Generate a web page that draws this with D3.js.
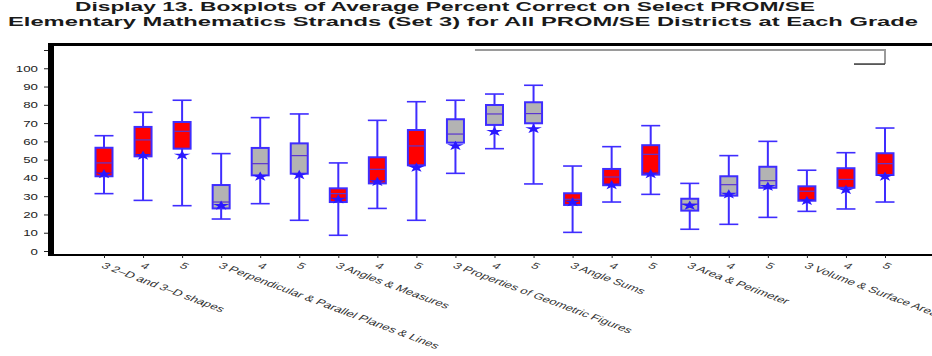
<!DOCTYPE html>
<html>
<head>
<meta charset="utf-8">
<script src="https://cdn.jsdelivr.net/npm/d3@7"></script>
<style>
  body { margin: 0; background: #fff; }
  svg { display: block; font-family: "Liberation Sans", Arial, sans-serif; }
</style>
</head>
<body>
<div id="chart"></div>
<script>
// strands and grades
var strands = ["2–D and 3–D shapes", "Perpendicular & Parallel Planes & Lines", "Angles & Measures",
    "Properties of Geometric Figures", "Angle Sums", "Area & Perimeter", "Volume & Surface Area"];
var grades = ["3", "4", "5"];

// box statistics, one per strand x grade
var whiskerLow  = [31.4, 27.7, 24.8, 17.5, 25.9, 16.8, 8.6, 23.3, 16.8, 42.5, 56.0, 36.7, 10.2, 26.8, 31.0, 11.9, 14.6, 18.4, 21.7, 23.0, 26.8];
var q1          = [40.9, 51.8, 56.0, 23.3, 41.4, 42.3, 26.8, 37.0, 46.9, 59.3, 69.0, 69.9, 25.2, 36.0, 41.8, 22.1, 30.3, 34.6, 27.5, 34.6, 41.6];
var median      = [48.2, 60.8, 65.5, 26.8, 47.8, 52.2, 31.4, 44.7, 57.5, 64.0, 75.0, 75.2, 28.3, 40.5, 52.9, 25.7, 36.3, 38.5, 32.7, 39.2, 47.8];
var q3          = [56.5, 67.9, 70.6, 36.1, 56.4, 58.9, 34.3, 51.3, 66.2, 72.1, 79.9, 81.4, 31.6, 44.9, 57.9, 28.6, 40.9, 46.1, 35.4, 45.3, 53.5];
var whiskerHigh = [63.1, 75.9, 82.5, 53.3, 73.0, 75.0, 48.2, 71.5, 81.7, 82.5, 85.9, 90.7, 46.5, 57.1, 68.6, 37.0, 52.2, 60.0, 44.2, 53.8, 67.3];
var mean        = [42.1, 52.2, 52.4, 24.8, 40.7, 41.6, 28.3, 37.9, 45.6, 57.5, 65.3, 66.8, 26.7, 36.1, 42.1, 24.8, 31.0, 35.2, 27.5, 33.4, 40.7];

var yTicks = d3.range(0, 111, 10);

var width = 932, height = 356;
var sx = 1.6; // horizontal text stretch of the scan

var data = [];
strands.forEach(function (s, si) {
    grades.forEach(function (g, gi) {
        var i = si * 3 + gi;
        data.push({
            i: i, strand: si,
            label: gi === 0 ? g + " " + s : g,
            lo: whiskerLow[i], q1: q1[i], med: median[i], q3: q3[i], hi: whiskerHigh[i], mean: mean[i]
        });
    });
});

var svg = d3.select("#chart").append("svg")
    .attr("width", width)
    .attr("height", height);

var x = d3.scalePoint().domain(d3.range(data.length)).range([104, 885]);
var y = d3.scaleLinear().domain([0, 110]).range([251, 50]);
var fill = function (d) { return d.strand % 2 === 0 ? "#ff0000" : "#b3b3b3"; };
var blue = "#3f2dff";
var boxW = 19;

// title
svg.append("text")
    .attr("x", 75).attr("y", 11)
    .attr("textLength", 740).attr("lengthAdjust", "spacingAndGlyphs")
    .attr("font-size", 12.5).attr("font-weight", "bold").attr("fill", "#1a1a1a")
    .text("Display 13. Boxplots of Average Percent Correct on Select PROM/SE");
svg.append("text")
    .attr("x", 8).attr("y", 26)
    .attr("textLength", 910).attr("lengthAdjust", "spacingAndGlyphs")
    .attr("font-size", 12.5).attr("font-weight", "bold").attr("fill", "#1a1a1a")
    .text("Elementary Mathematics Strands (Set 3) for All PROM/SE Districts at Each Grade");

// frame
svg.append("rect").attr("x", 48).attr("y", 43).attr("width", width - 48).attr("height", 3).attr("fill", "#000");
svg.append("rect").attr("x", 48).attr("y", 43).attr("width", 6).attr("height", 213).attr("fill", "#000");
svg.append("rect").attr("x", 48).attr("y", 254).attr("width", width - 48).attr("height", 2).attr("fill", "#000");

// leftover legend outline
var lx0 = (x(9) + x(10)) / 2, lx1 = x(20);
svg.append("path")
    .attr("d", "M" + lx0 + "," + y(110) + "H" + lx1 + "V" + y(102.3))
    .attr("fill", "none").attr("stroke", "#9a9a9a").attr("stroke-width", 2);
svg.append("path")
    .attr("d", "M" + (lx1 - 31) + "," + y(102.3) + "H" + lx1)
    .attr("fill", "none").attr("stroke", "#333").attr("stroke-width", 1.5);

// y axis
var yAxis = svg.append("g")
    .attr("transform", "translate(48,0)")
    .call(d3.axisLeft(y).tickValues(yTicks).tickSize(4).tickFormat(function (d) { return d > 100 ? "" : d; }));
yAxis.select(".domain").remove();
yAxis.selectAll("line").attr("stroke", "#222");
yAxis.selectAll("text")
    .attr("x", null).attr("dy", null)
    .attr("font-size", 8.3).attr("fill", "#222")
    .attr("font-family", "Liberation Sans, Arial, sans-serif")
    .attr("transform", "translate(-10,3) scale(" + sx + ",1)");

// x axis
var xAxis = svg.append("g")
    .attr("transform", "translate(0,255)")
    .call(d3.axisBottom(x).tickSize(3).tickFormat(function (i) { return data[i].label; }));
xAxis.select(".domain").remove();
xAxis.selectAll("line").attr("stroke", "#222");
xAxis.selectAll("text")
    .attr("y", null).attr("dy", "0.7em")
    .attr("text-anchor", "start")
    .attr("font-size", 8.6).attr("fill", "#333")
    .attr("font-family", "Liberation Sans, Arial, sans-serif")
    .attr("transform", "translate(1,7) scale(" + sx + ",1) rotate(31)");

// boxes
var box = svg.append("g").selectAll("g")
    .data(data).enter().append("g")
    .attr("transform", function (d) { return "translate(" + x(d.i) + ",0)"; });

box.append("line")
    .attr("y1", function (d) { return y(d.lo); })
    .attr("y2", function (d) { return y(d.hi); })
    .attr("stroke", blue).attr("stroke-width", 2);

box.selectAll(".cap")
    .data(function (d) { return [d.lo, d.hi]; })
    .enter().append("line")
    .attr("class", "cap")
    .attr("x1", -boxW / 2).attr("x2", boxW / 2)
    .attr("y1", function (v) { return y(v); })
    .attr("y2", function (v) { return y(v); })
    .attr("stroke", blue).attr("stroke-width", 1.6);

box.append("rect")
    .attr("x", -boxW / 2 + 1)
    .attr("width", boxW - 2)
    .attr("y", function (d) { return y(d.q3); })
    .attr("height", function (d) { return y(d.q1) - y(d.q3); })
    .attr("fill", fill)
    .attr("stroke", blue).attr("stroke-width", 2);

box.append("line")
    .attr("x1", -boxW / 2 + 1).attr("x2", boxW / 2 - 1)
    .attr("y1", function (d) { return y(d.med); })
    .attr("y2", function (d) { return y(d.med); })
    .attr("stroke", "#5a35d0").attr("stroke-width", 1.2);

box.append("path")
    .attr("d", d3.symbol().type(d3.symbolStar).size(60))
    .attr("transform", function (d) { return "translate(0," + y(d.mean) + ") scale(1.2,0.7)"; })
    .attr("fill", "#2a18ff");
</script>
</body>
</html>
